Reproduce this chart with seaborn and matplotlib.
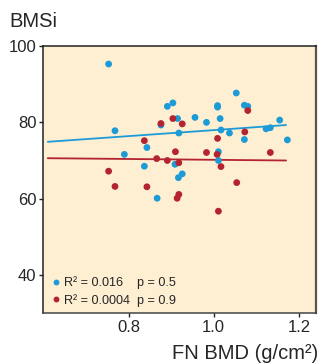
import numpy as np
import pandas as pd
import matplotlib
matplotlib.use("Agg")
import matplotlib.pyplot as plt
import seaborn as sns
from matplotlib.lines import Line2D

# ---- data ----
blue_x = [0.753, 0.768, 0.790, 0.843, 0.837, 0.876, 0.891, 0.904, 0.915, 0.918,
          0.909, 0.926, 0.917, 0.867, 0.956, 0.983, 1.009, 1.009, 1.015, 1.017,
          1.011, 1.011, 1.037, 1.053, 1.072, 1.080, 1.072, 1.123, 1.133, 1.155, 1.173]
blue_y = [95.3, 77.8, 71.6, 73.4, 68.5, 79.3, 84.2, 85.1, 81.0, 77.2,
          69.0, 66.5, 65.5, 60.1, 81.3, 80.0, 84.4, 84.0, 81.0, 78.0,
          72.3, 70.0, 77.2, 87.7, 84.5, 84.2, 75.5, 78.3, 78.6, 80.6, 75.4]
red_x = [0.753, 0.837, 0.866, 0.876, 0.891, 0.904, 0.910, 0.918, 0.926, 0.983,
         1.008, 1.009, 1.017, 1.073, 1.080, 1.133, 0.768, 0.843, 0.914, 0.918,
         1.011, 1.054]
red_y = [67.2, 75.2, 70.5, 79.7, 70.0, 81.0, 72.3, 69.4, 79.6, 72.1,
         71.6, 75.8, 68.4, 77.5, 83.1, 72.1, 63.2, 63.1, 60.1, 61.1,
         56.7, 64.2]
# fitted lines as drawn in the reference (end points)
fit_x = [0.61, 1.17]
blue_fit_y = [74.9, 79.3]
red_fit_y = [70.6, 70.0]
groups = ["R\u00b2 = 0.016    p = 0.5", "R\u00b2 = 0.0004  p = 0.9"]
x_ticks = [0.8, 1.0, 1.2]
y_ticks = [40, 60, 80, 100]

colors = ["#1C9BD7", "#B32430"]

df = pd.DataFrame({
    "x": blue_x + red_x,
    "y": blue_y + red_y,
    "g": [groups[0]] * len(blue_x) + [groups[1]] * len(red_x),
})
fit_df = pd.DataFrame({
    "x": fit_x + fit_x,
    "y": blue_fit_y + red_fit_y,
    "g": [groups[0]] * 2 + [groups[1]] * 2,
})

sns.set_style("ticks")
plt.rcParams["font.family"] = ["Liberation Sans", "DejaVu Sans"]

fig = plt.figure(figsize=(3.21, 3.63), dpi=100)
ax = fig.add_axes([0.1355, 0.1377, 0.8485, 0.7353])
ax.set_facecolor("#FEEFD3")

sns.lineplot(data=fit_df, x="x", y="y", hue="g", palette=colors, lw=1.3,
             ax=ax, legend=False, zorder=2)
sns.scatterplot(data=df, x="x", y="y", hue="g", palette=colors, s=24,
                linewidth=0, ax=ax, legend=False, zorder=3)

ax.set_xlim(0.6, 1.24)
ax.set_ylim(30, 100)
ax.set_xticks(x_ticks)
ax.set_xticklabels([f"{v:.1f}" for v in x_ticks])
ax.set_yticks(y_ticks)
ax.tick_params(axis="both", labelsize=12, length=3, width=1, direction="out",
               color="#222222", pad=2)
ax.set_xlabel("")
ax.set_ylabel("")
for side in ["top", "left"]:
    ax.spines[side].set_color("#222222")
    ax.spines[side].set_linewidth(1.1)
ax.spines["bottom"].set_color("#444444")
ax.spines["bottom"].set_linewidth(1.1)
ax.spines["right"].set_color("#5a5448")
ax.spines["right"].set_linewidth(1.6)

handles = [Line2D([], [], marker="o", ls="", color=c, markersize=3.2) for c in colors]
ax.legend(handles, groups, loc="lower left", bbox_to_anchor=(0.011, 0.0),
          frameon=False, fontsize=9.1,
          handlelength=0.5, handletextpad=0.35, labelspacing=0.35,
          borderaxespad=0.3, borderpad=0.2)

fig.text(0.028, 0.94, "BMSi", fontsize=14.5, ha="left", va="center")
fig.text(0.992, 0.027, "FN BMD (g/cm\u00b2)", fontsize=14.5, ha="right", va="center")

fig.savefig("out.png", dpi=100)
